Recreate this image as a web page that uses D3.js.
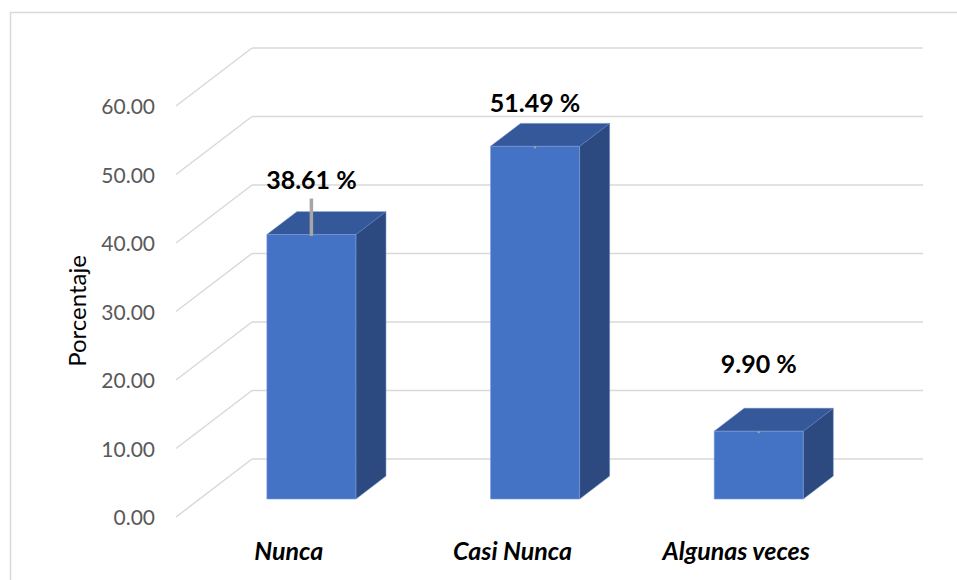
<!DOCTYPE html>
<html>
<head>
<meta charset="utf-8">
<script src="https://cdn.jsdelivr.net/npm/d3@7"></script>
<style>
  body { margin: 0; background: #fff; }
  svg { display: block; }
</style>
</head>
<body>
<div id="chart"></div>
<script>
var svgWidth = 957;
var svgHeight = 580;

// data
var categories = ["Nunca", "Casi Nunca", "Algunas veces"];
var percentages = [38.61, 51.49, 9.90];
var tickValues = [0, 10, 20, 30, 40, 50, 60];

// label placement (pixels above bar top) and which label has a leader line
var labelLift = [46, 34, 58];
var hasLeader = [true, false, false];

// back wall of the 3d box
var wall = { left: 252, right: 923, bottom: 459, top: 48 };
// depth vector from back wall to front edge of the floor
var depthX = 76;
var depthY = 58;
// bar depth range (0 = back wall, 1 = front edge)
var zBack = 0.295;
var zFront = 0.69;

var svg = d3.select("#chart")
  .append("svg")
  .attr("width", svgWidth)
  .attr("height", svgHeight);

// outer chart border (cropped on right and bottom)
svg.append("rect")
  .attr("x", 10.5)
  .attr("y", 12.5)
  .attr("width", 1200)
  .attr("height", 1200)
  .attr("fill", "none")
  .attr("stroke", "#D9D9D9")
  .attr("stroke-width", 1.5);

var xScale = d3.scaleBand()
  .domain(categories)
  .range([wall.left, wall.right])
  .padding(0);

var yScale = d3.scaleLinear()
  .domain([0, 60])
  .range([wall.bottom, wall.top]);

function proj(xb, v, z) {
  return [xb - z * depthX, yScale(v) + z * depthY];
}

// gridlines: back wall + left wall diagonals
var grid = svg.append("g");
grid.selectAll(".back")
  .data(tickValues)
  .enter()
  .append("line")
  .attr("x1", wall.left)
  .attr("x2", wall.right)
  .attr("y1", d => yScale(d))
  .attr("y2", d => yScale(d))
  .attr("stroke", "#D9D9D9")
  .attr("stroke-width", 1.5);

grid.selectAll(".side")
  .data(tickValues)
  .enter()
  .append("line")
  .attr("x1", wall.left)
  .attr("y1", d => yScale(d))
  .attr("x2", wall.left - depthX)
  .attr("y2", d => yScale(d) + depthY)
  .attr("stroke", "#D9D9D9")
  .attr("stroke-width", 1.5);

// y axis tick labels, on the front edge
svg.append("g")
  .selectAll("text")
  .data(tickValues)
  .enter()
  .append("text")
  .attr("x", wall.left - depthX - 21)
  .attr("y", d => yScale(d) + depthY + 1)
  .attr("dy", "0.35em")
  .attr("text-anchor", "end")
  .attr("font-family", "Lato, 'Open Sans', sans-serif")
  .attr("font-size", "21px")
  .attr("fill", "#595959")
  .text(d => d3.format(".2f")(d));

// y axis title
svg.append("text")
  .attr("transform", "translate(86, 311) rotate(-90)")
  .attr("text-anchor", "middle")
  .attr("font-family", "Lato, 'Open Sans', sans-serif")
  .attr("font-size", "24px")
  .attr("fill", "#000")
  .text("Porcentaje");

// bars
var barW = xScale.bandwidth() * 0.398;
var bars = svg.append("g")
  .selectAll("g")
  .data(categories.map((c, i) => ({ cat: c, value: percentages[i], i: i })))
  .enter()
  .append("g");

function poly(pts) {
  return "M" + pts.map(p => p.join(",")).join("L") + "Z";
}

function barEdges(d) {
  var cx = xScale(d.cat) + xScale.bandwidth() / 2;
  return { L: cx - barW / 2, R: cx + barW / 2 };
}

// side face
bars.append("path")
  .attr("d", d => {
    var e = barEdges(d);
    return poly([proj(e.R, 0, zFront), proj(e.R, 0, zBack), proj(e.R, d.value, zBack), proj(e.R, d.value, zFront)]);
  })
  .attr("fill", "#2C4A80")
  .attr("stroke", "#5D7FC0")
  .attr("stroke-width", 0.5);

// top face
bars.append("path")
  .attr("d", d => {
    var e = barEdges(d);
    return poly([proj(e.L, d.value, zFront), proj(e.R, d.value, zFront), proj(e.R, d.value, zBack), proj(e.L, d.value, zBack)]);
  })
  .attr("fill", "#345899")
  .attr("stroke", "#5D7FC0")
  .attr("stroke-width", 0.5);

// front face
bars.append("path")
  .attr("d", d => {
    var e = barEdges(d);
    return poly([proj(e.L, 0, zFront), proj(e.R, 0, zFront), proj(e.R, d.value, zFront), proj(e.L, d.value, zFront)]);
  })
  .attr("fill", "#4472C4")
  .attr("stroke", "#7E9BD6")
  .attr("stroke-width", 0.6);

// leader lines / dots
bars.append("line")
  .attr("x1", d => proj(xScale(d.cat) + xScale.bandwidth() / 2, d.value, zFront)[0])
  .attr("x2", d => proj(xScale(d.cat) + xScale.bandwidth() / 2, d.value, zFront)[0])
  .attr("y1", d => hasLeader[d.i] ? proj(0, d.value, zFront)[1] - labelLift[d.i] + 10 : proj(0, d.value, zFront)[1])
  .attr("y2", d => proj(0, d.value, zFront)[1] + (hasLeader[d.i] ? 1.5 : 2))
  .attr("stroke", "#A6A6A6")
  .attr("stroke-width", d => hasLeader[d.i] ? 3.5 : 2);

// value labels
bars.append("text")
  .attr("x", d => proj(xScale(d.cat) + xScale.bandwidth() / 2, d.value, zFront)[0])
  .attr("y", d => proj(0, d.value, zFront)[1] - labelLift[d.i])
  .attr("text-anchor", "middle")
  .attr("font-family", "Lato, 'Open Sans', sans-serif")
  .attr("font-weight", "bold")
  .attr("font-size", "25px")
  .attr("fill", "#000")
  .text(d => d.value.toFixed(2) + " %");

// category labels on the front edge
svg.append("g")
  .selectAll("text")
  .data(categories)
  .enter()
  .append("text")
  .attr("x", d => xScale(d) + xScale.bandwidth() / 2 - depthX + 1)
  .attr("y", yScale(0) + depthY + 43)
  .attr("text-anchor", "middle")
  .attr("font-family", "Lato, 'Open Sans', sans-serif")
  .attr("font-weight", "bold")
  .attr("font-style", "italic")
  .attr("font-size", "25px")
  .attr("fill", "#000")
  .text(d => d);
</script>
</body>
</html>
